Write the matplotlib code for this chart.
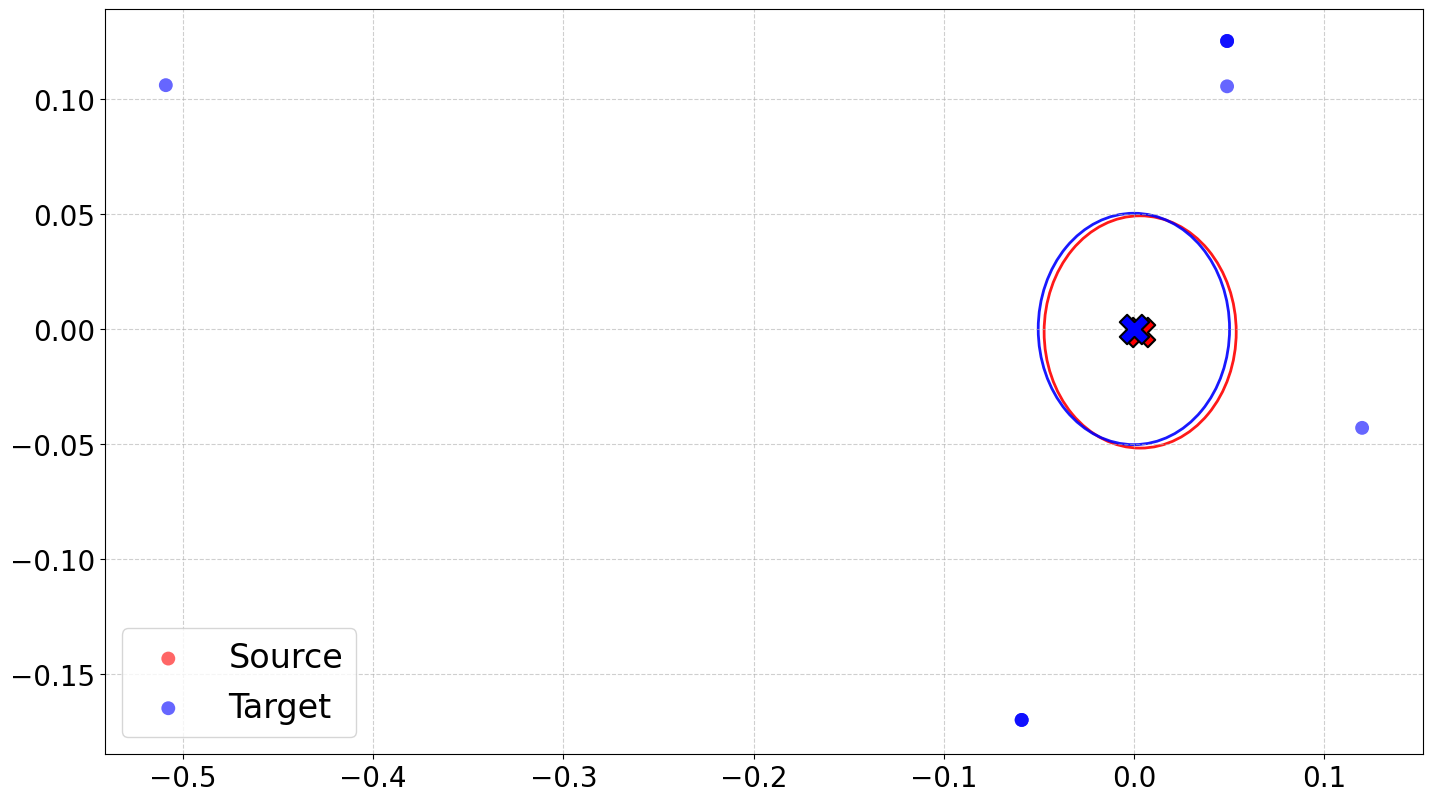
import numpy as np
import matplotlib.pyplot as plt
from matplotlib.patches import Ellipse

# target points (duplicates stack up where the dots look darker)
target_x = [-0.509, 0.049, 0.120, 0.049, 0.049, 0.049, -0.059, -0.059, -0.059]
target_y = [0.106, 0.1055, -0.043, 0.1252, 0.1252, 0.1252, -0.170, -0.170, -0.170]

# source points sit under the centre markers
source_x = [0.003, 0.004]
source_y = [-0.001, -0.002]

# means and radii
source_mean = (0.0033, -0.0013)
target_mean = (0.0, 0.0)
source_radius = 0.0505
target_radius = 0.0503

fig, ax = plt.subplots(figsize=(14.32, 8.03), dpi=100)
fig.subplots_adjust(left=0.0733, right=0.9937, top=0.9875, bottom=0.0598)

ax.scatter(source_x, source_y, c='red', alpha=0.6, s=100, edgecolors='none', label='Source')
ax.scatter(target_x, target_y, c='blue', alpha=0.6, s=100, edgecolors='none', label='Target')

ax.add_patch(Ellipse(source_mean, 2 * source_radius, 2 * source_radius,
                     fill=False, edgecolor='red', lw=2, alpha=0.9))
ax.add_patch(Ellipse(target_mean, 2 * target_radius, 2 * target_radius,
                     fill=False, edgecolor='blue', lw=2, alpha=0.9))

ax.scatter(*source_mean, marker='X', s=450, c='red', edgecolors='black', linewidths=1.5, zorder=3)
ax.scatter(*target_mean, marker='X', s=450, c='blue', edgecolors='black', linewidths=1.5, zorder=3)

ax.set_xlim(-0.541, 0.152)
ax.set_ylim(-0.1848, 0.1391)
ax.grid(True, linestyle='--', alpha=0.6)
ax.tick_params(labelsize=20)
ax.legend(fontsize=24, loc='lower left')

plt.savefig('out.png')
